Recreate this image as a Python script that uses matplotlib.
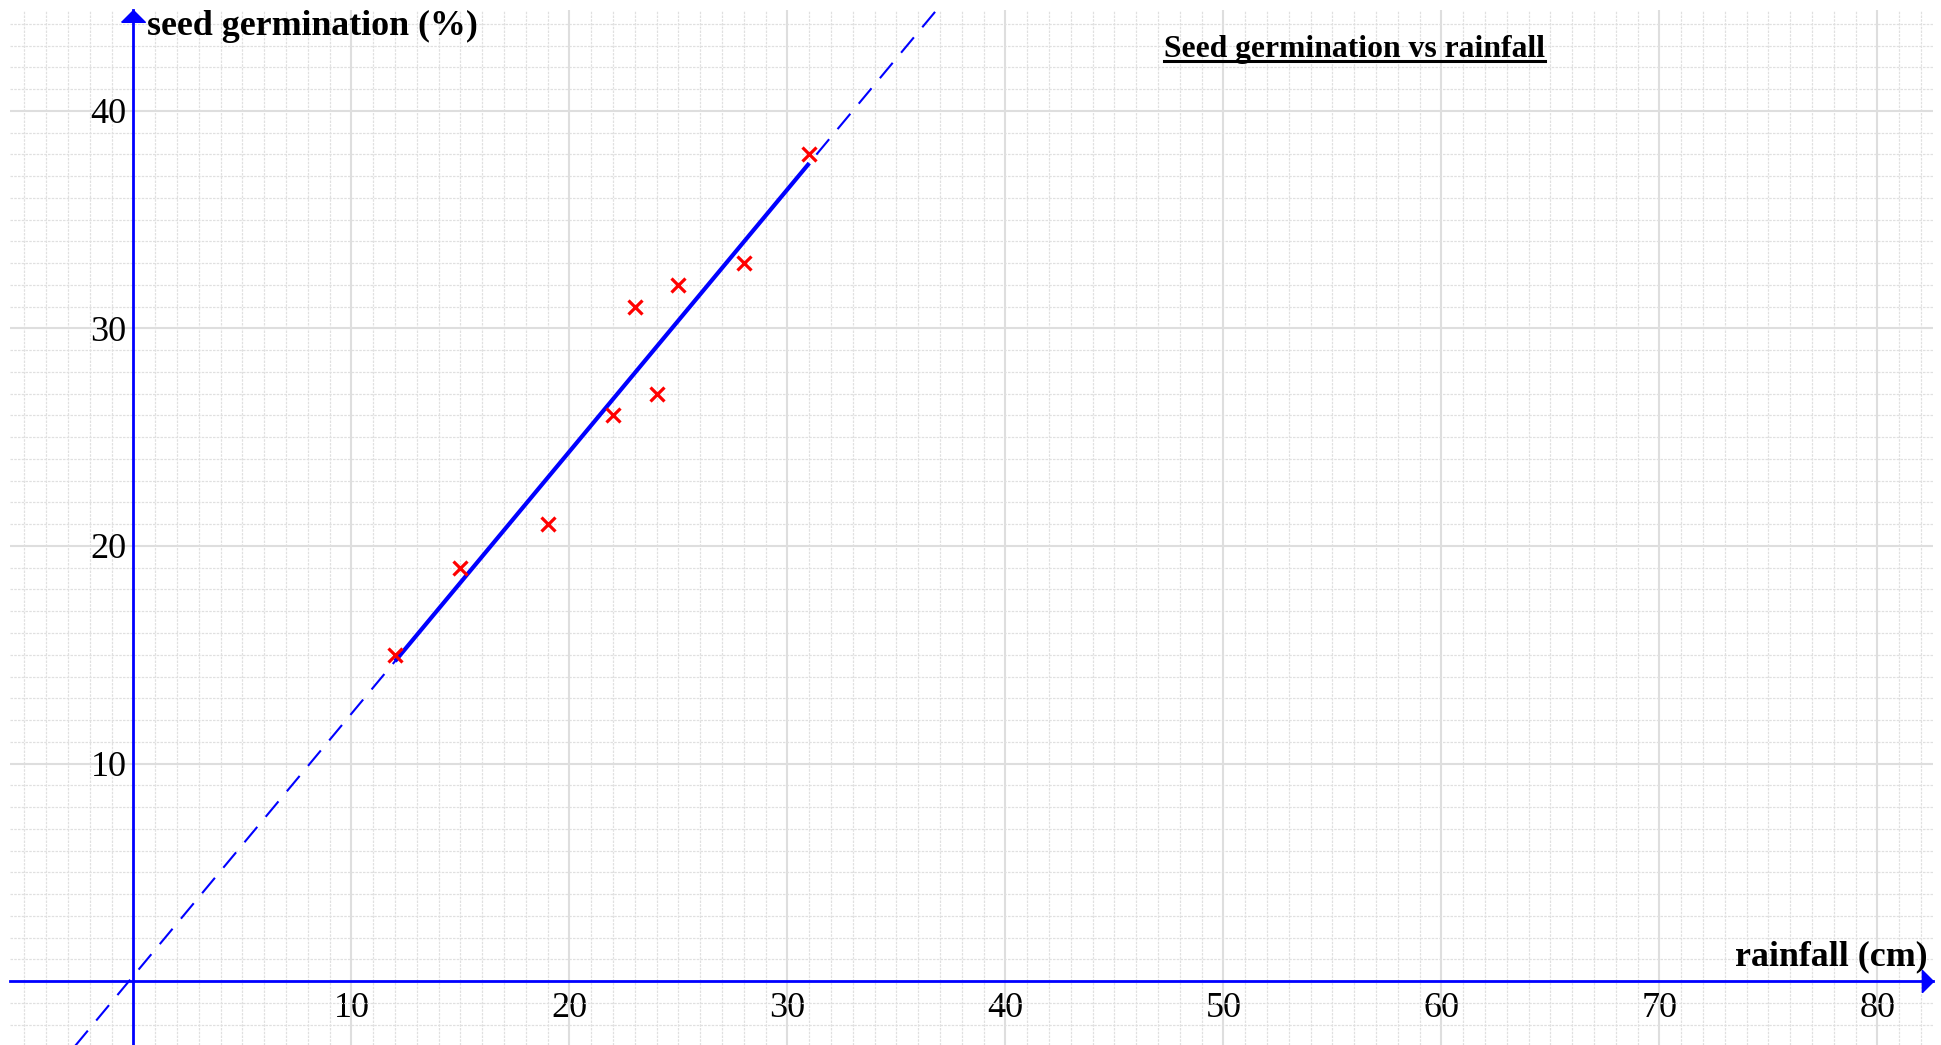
import numpy as np
import matplotlib
matplotlib.use("Agg")
import matplotlib.pyplot as plt
from matplotlib.ticker import MultipleLocator
from matplotlib.lines import Line2D
from matplotlib.path import Path
from matplotlib.transforms import IdentityTransform

# Observations: rainfall (cm) and seed germination (%)
rainfall = [12, 15, 19, 22, 23, 24, 25, 28, 31]
germination = [15, 19, 21, 26, 31, 27, 32, 33, 38]

x_ticks = [10, 20, 30, 40, 50, 60, 70, 80]
y_ticks = [10, 20, 30, 40]

title = "Seed germination vs rainfall"
x_label = "rainfall (cm)"
y_label = "seed germination (%)"

plt.rcParams['font.family'] = ['Liberation Serif', 'DejaVu Serif']

W, H, DPI = 1941, 1045, 100
fig = plt.figure(figsize=(W / DPI, H / DPI), dpi=DPI)
fig.patch.set_facecolor("white")

# axes box in pixels (left, right, top, bottom)
lpx, rpx, tpx, bpx = 10, 1933, 10, 1045
ax = fig.add_axes([lpx / W, 1 - bpx / H, (rpx - lpx) / W, (bpx - tpx) / H])
ax.set_xlim(-5.665, 82.55)
ax.set_ylim(-2.94, 44.64)

# grid: solid major lines every 10, dotted minor lines every 1
ax.set_axisbelow(True)
ax.xaxis.set_minor_locator(MultipleLocator(1))
ax.yaxis.set_minor_locator(MultipleLocator(1))
ax.set_xticks(x_ticks)
ax.set_yticks(y_ticks)
ax.grid(which="major", color="#dedede", linewidth=1.5, linestyle="-")
ax.grid(which="minor", color="#e0e0e0", linewidth=0.9, linestyle=(0, (2, 1)))

# axes through the origin
for side in ("top", "right"):
    ax.spines[side].set_visible(False)
for side in ("left", "bottom"):
    ax.spines[side].set_position(("data", 0))
    ax.spines[side].set_color("#0000ff")
    ax.spines[side].set_linewidth(2.0)
    ax.spines[side].set_zorder(3)

ax.tick_params(which="both", length=0)
ax.tick_params(axis="x", pad=8, labelsize=26)
ax.tick_params(axis="y", pad=5, labelsize=26)
ax.set_xticklabels([str(t) for t in x_ticks])
ax.set_yticklabels([str(t) for t in y_ticks])

# arrow heads on the axes
up_head = Path([(-1, -1), (1, -1), (0, 0), (-1, -1)])
right_head = Path([(-1, -1), (0, 0), (-1, 1), (-1, -1)])
x0, x1 = ax.get_xlim()
y0, y1 = ax.get_ylim()
ax.plot([0], [y1], marker=up_head, markersize=17, color="#0000ff",
        clip_on=False, zorder=4, linestyle="none")
ax.plot([x1], [0], marker=right_head, markersize=16, color="#0000ff",
        clip_on=False, zorder=4, linestyle="none")

# least-squares line of best fit
slope, intercept = np.polyfit(rainfall, germination, 1)
xs_full = np.array([x0, x1])
ax.plot(xs_full, slope * xs_full + intercept, color="#0000ff",
        linewidth=1.5, linestyle=(0, (9.6, 6.3)), zorder=4)
xs_data = np.array([min(rainfall), max(rainfall)])
ax.plot(xs_data, slope * xs_data + intercept, color="#0000ff",
        linewidth=3.0, solid_capstyle="butt", zorder=5)

# data points
ax.plot(rainfall, germination, linestyle="none", marker="x", color="#ff0000",
        markersize=10, markeredgewidth=2.3, zorder=6)

# labels
ax.text(0.62, 43.5, y_label, ha="left", va="baseline",
        fontsize=25.8, fontweight="bold", color="black")
ax.text(82.3, 0.74, x_label, ha="right", va="baseline",
        fontsize=25.8, fontweight="bold", color="black")
t = ax.text(56.0, 42.5, title, ha="center", va="baseline",
            fontsize=22.8, fontweight="bold", color="black")

# underline the title
fig.canvas.draw()
bb = t.get_window_extent()
base_y = ax.transData.transform((56.0, 42.5))[1]
fig.add_artist(Line2D([bb.x0, bb.x1], [base_y - 4.5, base_y - 4.5],
                      transform=IdentityTransform(), color="black",
                      linewidth=2.2))

fig.savefig("out.png", dpi=DPI)
